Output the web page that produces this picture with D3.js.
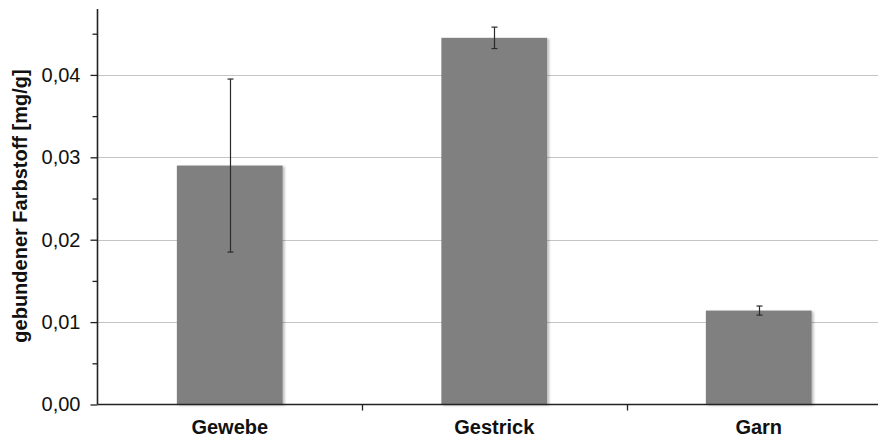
<!DOCTYPE html>
<html>
<head>
<meta charset="utf-8">
<script src="https://cdn.jsdelivr.net/npm/d3@7"></script>
<style>
  html, body { margin: 0; padding: 0; background: #fff; }
  svg { display: block; font-family: "Liberation Sans", Arial, sans-serif; }
</style>
</head>
<body>
<svg id="chart" width="878" height="438"></svg>
<script>
// Gebundener Farbstoff je Textilform (Mittelwert ± Standardabweichung)
const categories = ["Gewebe", "Gestrick", "Garn"];
const means = [0.0290, 0.0445, 0.0114];
const errors = [0.0105, 0.0013, 0.00055];
const yTicks = [0, 0.01, 0.02, 0.03, 0.04];
const yMinorTicks = [0.005, 0.015, 0.025, 0.035, 0.045];
const yLabel = "gebundener Farbstoff [mg/g]";

const svg = d3.select("#chart");
const W = 878, H = 438;
const mLeft = 97.5, mRight = 891, mTop = 9, mBottom = 404.5;

const x = d3.scaleBand().domain(categories).range([mLeft, mRight])
  .paddingInner(0.6).paddingOuter(0.3);
const y = d3.scaleLinear().domain([0, 0.048]).range([mBottom, mTop]);

const fmt = d => d3.format(".2f")(d).replace(".", ",");

// Bar shadow
const defs = svg.append("defs");
const f = defs.append("filter").attr("id", "shadow")
  .attr("x", "-10%").attr("y", "-10%").attr("width", "130%").attr("height", "130%");
f.append("feDropShadow").attr("dx", 2).attr("dy", 1).attr("stdDeviation", 1)
  .attr("flood-color", "#000").attr("flood-opacity", 0.25);

// Gridlines
svg.append("g").selectAll("line").data(yTicks.filter(d => d > 0)).join("line")
  .attr("x1", mLeft).attr("x2", W)
  .attr("y1", d => Math.round(y(d)) + 0.5).attr("y2", d => Math.round(y(d)) + 0.5)
  .attr("stroke", "#c4c4c4").attr("stroke-width", 1.2);

// Bars
svg.append("g").selectAll("rect").data(categories).join("rect")
  .attr("x", d => x(d))
  .attr("width", x.bandwidth())
  .attr("y", (d, i) => y(means[i]))
  .attr("height", (d, i) => mBottom - y(means[i]))
  .attr("fill", "#808080")
  .attr("filter", "url(#shadow)");

// Error bars
const eb = svg.append("g").attr("stroke", "#2a2a2a").attr("stroke-width", 1.2);
categories.forEach((c, i) => {
  const cx = Math.round(x(c) + x.bandwidth() / 2) + 0.5;
  const y1 = y(means[i] + errors[i]), y2 = y(means[i] - errors[i]);
  eb.append("line").attr("x1", cx).attr("x2", cx).attr("y1", y1).attr("y2", y2);
  eb.append("line").attr("x1", cx - 3).attr("x2", cx + 3).attr("y1", y1).attr("y2", y1);
  eb.append("line").attr("x1", cx - 3).attr("x2", cx + 3).attr("y1", y2).attr("y2", y2);
});

// Y axis with major and minor ticks
const yAxisG = svg.append("g").attr("transform", `translate(${mLeft},0)`);
yAxisG.call(d3.axisLeft(y).tickValues(yTicks).tickFormat(fmt).tickSize(7).tickSizeOuter(0).tickPadding(10));
yAxisG.select(".domain").remove();
yAxisG.selectAll(".tick line").attr("stroke", "#222").attr("stroke-width", 1.3);
yAxisG.selectAll(".tick text").attr("font-size", 20).attr("fill", "#111")
  .attr("font-family", "Liberation Sans, Arial, sans-serif");
svg.append("g").attr("transform", `translate(${mLeft},0)`)
  .call(d3.axisLeft(y).tickValues(yMinorTicks).tickFormat("").tickSize(5).tickSizeOuter(0))
  .call(g => g.select(".domain").remove())
  .selectAll(".tick line").attr("stroke", "#222").attr("stroke-width", 1.3);
svg.append("line").attr("x1", mLeft).attr("x2", mLeft).attr("y1", mTop).attr("y2", mBottom)
  .attr("stroke", "#222").attr("stroke-width", 1.6);

// X axis: baseline, separators between categories, labels
svg.append("line").attr("x1", mLeft).attr("x2", W).attr("y1", mBottom).attr("y2", mBottom)
  .attr("stroke", "#222").attr("stroke-width", 1.6);
const seps = categories.slice(1).map(c => x(c) - x.step() * x.paddingInner() / 2);
svg.append("g").selectAll("line").data(seps).join("line")
  .attr("x1", d => Math.round(d) + 0.5).attr("x2", d => Math.round(d) + 0.5)
  .attr("y1", mBottom).attr("y2", mBottom + 6)
  .attr("stroke", "#222").attr("stroke-width", 1.3);
svg.append("g").selectAll("text").data(categories).join("text")
  .attr("x", d => x(d) + x.bandwidth() / 2)
  .attr("y", 434)
  .attr("text-anchor", "middle")
  .attr("font-size", 20).attr("font-weight", "bold").attr("fill", "#111")
  .text(d => d);

// Y axis title
svg.append("text")
  .attr("transform", `translate(27,206) rotate(-90)`)
  .attr("text-anchor", "middle")
  .attr("font-size", 20).attr("font-weight", "bold").attr("fill", "#111")
  .text(yLabel);
</script>
</body>
</html>
